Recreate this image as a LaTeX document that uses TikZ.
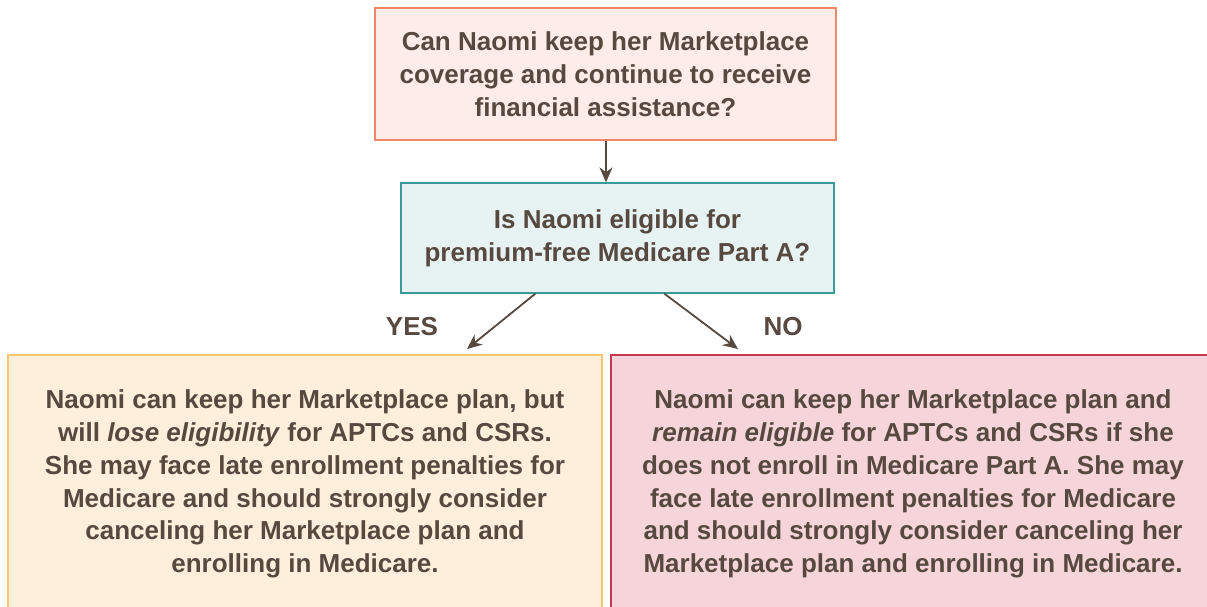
\documentclass[tikz,border=0pt]{standalone}
\usepackage{fontspec}
\setmainfont{Liberation Sans}
\usetikzlibrary{arrows.meta}
\definecolor{inkbrown}{HTML}{574840}
\definecolor{qfill}{HTML}{FDECE8}
\definecolor{qdraw}{HTML}{F08868}
\definecolor{efill}{HTML}{E7F3F3}
\definecolor{edraw}{HTML}{3A9A9A}
\definecolor{yfill}{HTML}{FDEFDB}
\definecolor{ydraw}{HTML}{F8C66C}
\definecolor{nfill}{HTML}{F5D5D9}
\definecolor{ndraw}{HTML}{C53A4C}

\begin{document}
\begin{tikzpicture}[x=1pt,y=-1pt]
\tikzset{boite/.style={draw, line width=1.3pt, align=center, inner sep=0pt, text=inkbrown,
  font=\fontsize{26}{32.8}\selectfont\bfseries},
  fleche/.style={draw=inkbrown, line width=1.8pt, -{Stealth[length=15pt,width=13pt]}},
  etiquette/.style={text=inkbrown, font=\fontsize{26}{30}\selectfont\bfseries}}
\useasboundingbox (0,0) rectangle (1207,606);
\clip (0,0) rectangle (1207,606);
\node[boite, fill=qfill, draw=qdraw, minimum width=461, minimum height=132] (question) at (605.5,74)
  {Can Naomi keep her Marketplace\\coverage and continue to receive\\financial assistance?};
\node[boite, fill=efill, draw=edraw, minimum width=433, minimum height=110] (eligible) at (617.5,238)
  {Is Naomi eligible for\\premium-free Medicare Part A?};
\node[boite, fill=yfill, draw=ydraw, minimum width=594, minimum height=258] (yesbox) at (305,484)
  {Naomi can keep her Marketplace plan, but\\will \textit{lose eligibility} for APTCs and CSRs.\\She may face late enrollment penalties for\\Medicare and should strongly consider\\canceling her Marketplace plan and\\enrolling in Medicare.};
\node[boite, fill=nfill, draw=ndraw, minimum width=604, minimum height=258] (nobox) at (913,484)
  {Naomi can keep her Marketplace plan and\\\textit{remain eligible} for APTCs and CSRs if she\\does not enroll in Medicare Part A. She may\\face late enrollment penalties for Medicare\\and should strongly consider canceling her\\Marketplace plan and enrolling in Medicare.};
\coordinate (yestip) at (467,349);
\coordinate (notip) at (738,349);
\node[etiquette] (yes) at (412,327) {YES};
\node[etiquette] (no) at (783,327) {NO};
\draw[fleche] ([xshift=0.5]question.south) -- ([xshift=0.5]question.south |- eligible.north);
\draw[fleche] ([xshift=135]eligible.south west) -- (yestip);
\draw[fleche] ([xshift=264]eligible.south west) -- (notip);
\end{tikzpicture}
\end{document}
